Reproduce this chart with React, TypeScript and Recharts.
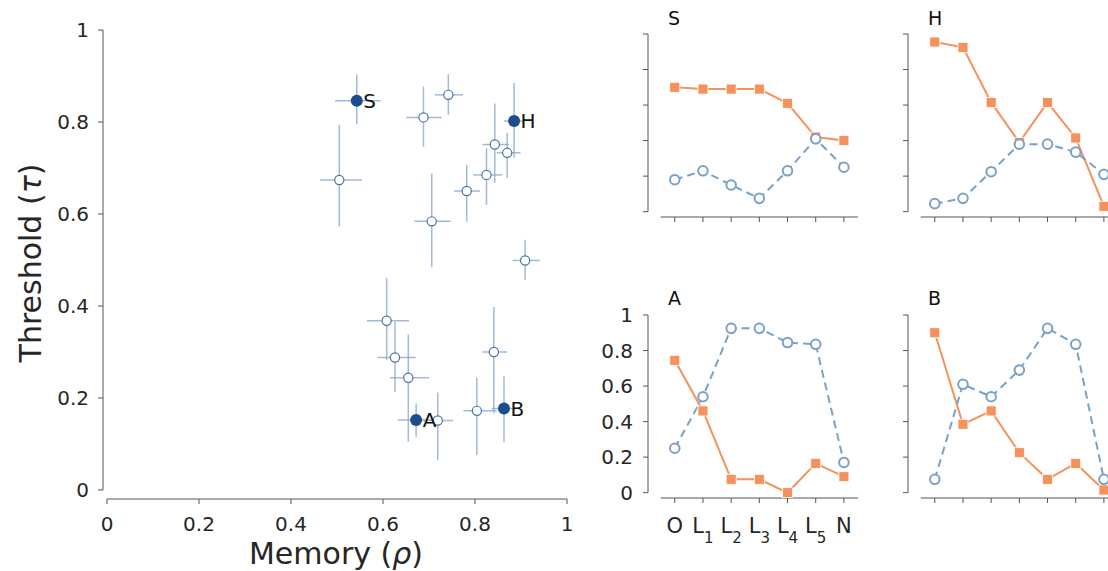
import React from "react";
import {
  ScatterChart,
  Scatter,
  LineChart,
  Line,
  XAxis,
  YAxis,
  ErrorBar,
  LabelList,
  ReferenceLine,
} from "recharts";

// main scatter: memory (rho) vs threshold (tau), with errors
const pointNames = ["S", "H", "A", "B", "", "", "", "", "", "", "", "", "", "", "", "", "", "", ""];
const memory = [0.543, 0.885, 0.672, 0.863, 0.742, 0.688, 0.505, 0.843, 0.87, 0.825, 0.782, 0.706, 0.909, 0.608, 0.626, 0.655, 0.719, 0.804, 0.841];
const threshold = [0.846, 0.802, 0.152, 0.177, 0.859, 0.81, 0.674, 0.751, 0.733, 0.685, 0.65, 0.584, 0.499, 0.368, 0.288, 0.244, 0.151, 0.172, 0.3];
const memoryErrLow = [0.047, 0.022, 0.04, 0.027, 0.029, 0.038, 0.042, 0.027, 0.023, 0.029, 0.028, 0.038, 0.027, 0.043, 0.038, 0.04, 0.032, 0.029, 0.025];
const memoryErrHigh = [0.052, 0.022, 0.036, 0.027, 0.032, 0.04, 0.049, 0.031, 0.029, 0.034, 0.029, 0.041, 0.032, 0.049, 0.045, 0.045, 0.033, 0.043, 0.029];
const thresholdErrLow = [0.051, 0.079, 0.036, 0.073, 0.043, 0.064, 0.101, 0.083, 0.055, 0.065, 0.067, 0.1, 0.042, 0.085, 0.075, 0.139, 0.086, 0.096, 0.133];
const thresholdErrHigh = [0.057, 0.083, 0.036, 0.07, 0.045, 0.067, 0.12, 0.089, 0.043, 0.058, 0.057, 0.104, 0.045, 0.093, 0.077, 0.094, 0.061, 0.072, 0.098];

const axisTicks = [0, 0.2, 0.4, 0.6, 0.8, 1];

// small panels
const stages = ["O", "L1", "L2", "L3", "L4", "L5", "N"];
const sOrange = [0.7, 0.69, 0.69, 0.69, 0.61, 0.42, 0.4];
const sBlue = [0.18, 0.23, 0.15, 0.075, 0.23, 0.41, 0.25];
const hOrange = [0.955, 0.925, 0.615, 0.39, 0.615, 0.415, 0.03];
const hBlue = [0.045, 0.075, 0.225, 0.38, 0.38, 0.335, 0.21];
const aOrange = [0.745, 0.46, 0.075, 0.075, 0.0, 0.165, 0.09];
const aBlue = [0.25, 0.54, 0.925, 0.925, 0.845, 0.835, 0.17];
const bOrange = [0.9, 0.385, 0.46, 0.225, 0.075, 0.165, 0.015];
const bBlue = [0.075, 0.61, 0.54, 0.69, 0.925, 0.835, 0.075];

const ORANGE = "#f5915a";
const BLUE = "#7ba1c7";
const DARK = "#1d4c8a";
const OPEN = "#4a72a6";
const ERR = "#8aa9cd";
const AXIS = "#555";
const TEXT = "#262626";

const MAIN_X_MIN = -0.0087;
const MAIN_Y_MIN = -0.0196;
const PANEL_X_MIN = -0.95;
const PANEL_Y_MIN = -0.03;

const points = memory.map((m, i) => ({
  name: pointNames[i],
  x: m,
  y: threshold[i],
  xErr: [memoryErrLow[i], memoryErrHigh[i]],
  yErr: [thresholdErrLow[i], thresholdErrHigh[i]],
}));
const namedPoints = points.filter((p) => p.name !== "");
const otherPoints = points.filter((p) => p.name === "");

const OpenDot = (props: any) => (
  <circle cx={props.cx} cy={props.cy} r={4.6} fill="#fff" stroke={OPEN} strokeWidth={1.2} />
);
const FilledDot = (props: any) => (
  <circle cx={props.cx} cy={props.cy} r={6} fill={DARK} />
);

const StageTick = (props: any) => {
  const { x, y, payload } = props;
  const label = stages[payload.value] || "";
  const sub = label.slice(1);
  return (
    <text x={x} y={y + 28} textAnchor="middle" fontSize={21} fill={TEXT}>
      {label[0]}
      {sub && (
        <tspan fontSize={15} dy={10}>
          {sub}
        </tspan>
      )}
    </text>
  );
};

// keeps the tick line but draws no label
const NoLabel = () => <g />;

const SquareDot = (props: any) => (
  <rect
    key={"sq" + props.index}
    x={props.cx - 5}
    y={props.cy - 5}
    width={10}
    height={10}
    fill={ORANGE}
    stroke="#fff"
    strokeWidth={0.8}
  />
);
const RingDot = (props: any) => (
  <circle
    key={"rg" + props.index}
    cx={props.cx}
    cy={props.cy}
    r={4.8}
    fill="#fff"
    stroke={BLUE}
    strokeWidth={2}
  />
);

interface PanelProps {
  orange: number[];
  blue: number[];
  left: number;
  top: number;
  showLabels: boolean;
}

const Panel: React.FC<PanelProps> = ({ orange, blue, left, top, showLabels }) => {
  const data = stages.map((s, i) => ({ i, stage: s, orange: orange[i], blue: blue[i] }));
  return (
    <div style={{ position: "absolute", left, top }}>
      <LineChart
        width={260}
        height={277}
        data={data}
        margin={{ top: 34, right: 2, bottom: 0, left: 8 }}
      >
        <XAxis
          type="number"
          dataKey="i"
          domain={[PANEL_X_MIN, 6.5]}
          ticks={[0, 1, 2, 3, 4, 5, 6]}
          allowDataOverflow
          axisLine={false}
          tickLine={{ stroke: AXIS }}
          tickSize={5}
          height={60}
          interval={0}
          tick={showLabels ? <StageTick /> : <NoLabel />}
        />
        <YAxis
          type="number"
          domain={[PANEL_Y_MIN, 1]}
          ticks={axisTicks}
          allowDataOverflow
          width={40}
          axisLine={false}
          tickLine={{ stroke: AXIS }}
          tickSize={5}
          tickMargin={10}
          interval={0}
          tick={showLabels ? { fontSize: 20, fill: TEXT } : <NoLabel />}
        />
        <ReferenceLine
          segment={[{ x: -0.5, y: PANEL_Y_MIN }, { x: 6.5, y: PANEL_Y_MIN }]}
          stroke={AXIS}
          ifOverflow="visible"
        />
        <ReferenceLine
          segment={[{ x: PANEL_X_MIN, y: 0 }, { x: PANEL_X_MIN, y: 1 }]}
          stroke={AXIS}
          ifOverflow="visible"
        />
        <Line
          type="linear"
          dataKey="orange"
          stroke={ORANGE}
          strokeWidth={2}
          dot={SquareDot}
          activeDot={false}
          isAnimationActive={false}
        />
        <Line
          type="linear"
          dataKey="blue"
          stroke={BLUE}
          strokeWidth={2}
          strokeDasharray="8 5"
          dot={RingDot}
          activeDot={false}
          isAnimationActive={false}
        />
      </LineChart>
    </div>
  );
};

const App: React.FC = () => {
  return (
    <div
      style={{
        position: "absolute",
        left: 0,
        top: 0,
        width: 1108,
        height: 571,
        overflow: "hidden",
        background: "#fff",
        fontFamily: "DejaVu Sans",
      }}
    >
      <div style={{ position: "absolute", left: 0, top: 0 }}>
        <ScatterChart
          width={600}
          height={571}
          margin={{ top: 30, right: 33, bottom: 32, left: 43 }}
        >
          <XAxis
            type="number"
            dataKey="x"
            domain={[MAIN_X_MIN, 1]}
            ticks={axisTicks}
            allowDataOverflow
            axisLine={false}
            tickLine={{ stroke: AXIS }}
            tickSize={5}
            tickMargin={13}
            height={40}
            interval={0}
            tick={{ fontSize: 20, fill: TEXT }}
          />
          <YAxis
            type="number"
            dataKey="y"
            domain={[MAIN_Y_MIN, 1]}
            ticks={axisTicks}
            allowDataOverflow
            width={60}
            axisLine={false}
            tickLine={{ stroke: AXIS }}
            tickSize={5}
            tickMargin={9}
            interval={0}
            tick={{ fontSize: 20, fill: TEXT }}
          />
          <ReferenceLine
            segment={[{ x: 0, y: MAIN_Y_MIN }, { x: 1, y: MAIN_Y_MIN }]}
            stroke={AXIS}
            ifOverflow="visible"
          />
          <ReferenceLine
            segment={[{ x: MAIN_X_MIN, y: 0 }, { x: MAIN_X_MIN, y: 1 }]}
            stroke={AXIS}
            ifOverflow="visible"
          />
          <Scatter data={otherPoints} shape={<OpenDot />} isAnimationActive={false}>
            <ErrorBar dataKey="xErr" direction="x" width={0} stroke={ERR} strokeWidth={1.5} strokeOpacity={0.8} />
            <ErrorBar dataKey="yErr" direction="y" width={0} stroke={ERR} strokeWidth={1.5} strokeOpacity={0.8} />
          </Scatter>
          <Scatter data={namedPoints} shape={<FilledDot />} isAnimationActive={false}>
            <ErrorBar dataKey="xErr" direction="x" width={0} stroke={ERR} strokeWidth={1.5} strokeOpacity={0.8} />
            <ErrorBar dataKey="yErr" direction="y" width={0} stroke={ERR} strokeWidth={1.5} strokeOpacity={0.8} />
            <LabelList dataKey="name" position="right" offset={2} fontSize={20} fill="#111" />
          </Scatter>
        </ScatterChart>
      </div>

      <Panel orange={sOrange} blue={sBlue} left={600} top={0} showLabels={false} />
      <Panel orange={hOrange} blue={hBlue} left={860} top={0} showLabels={false} />
      <Panel orange={aOrange} blue={aBlue} left={600} top={281} showLabels={true} />
      <Panel orange={bOrange} blue={bBlue} left={860} top={281} showLabels={false} />

      <svg
        width={1108}
        height={571}
        style={{ position: "absolute", left: 0, top: 0, pointerEvents: "none" }}
      >
        <text x={336} y={564} textAnchor="middle" fontSize={30} fill={TEXT}>
          Memory (<tspan fontStyle="italic">ρ</tspan>)
        </text>
        <text
          x={41}
          y={263}
          textAnchor="middle"
          fontSize={30}
          fill={TEXT}
          transform="rotate(-90 41 263)"
        >
          Threshold (<tspan fontStyle="italic">τ</tspan>)
        </text>
        <text x={668} y={25} fontSize={19} fill="#111">S</text>
        <text x={928} y={25} fontSize={19} fill="#111">H</text>
        <text x={668} y={305} fontSize={19} fill="#111">A</text>
        <text x={928} y={305} fontSize={19} fill="#111">B</text>
      </svg>
    </div>
  );
};

export default App;
